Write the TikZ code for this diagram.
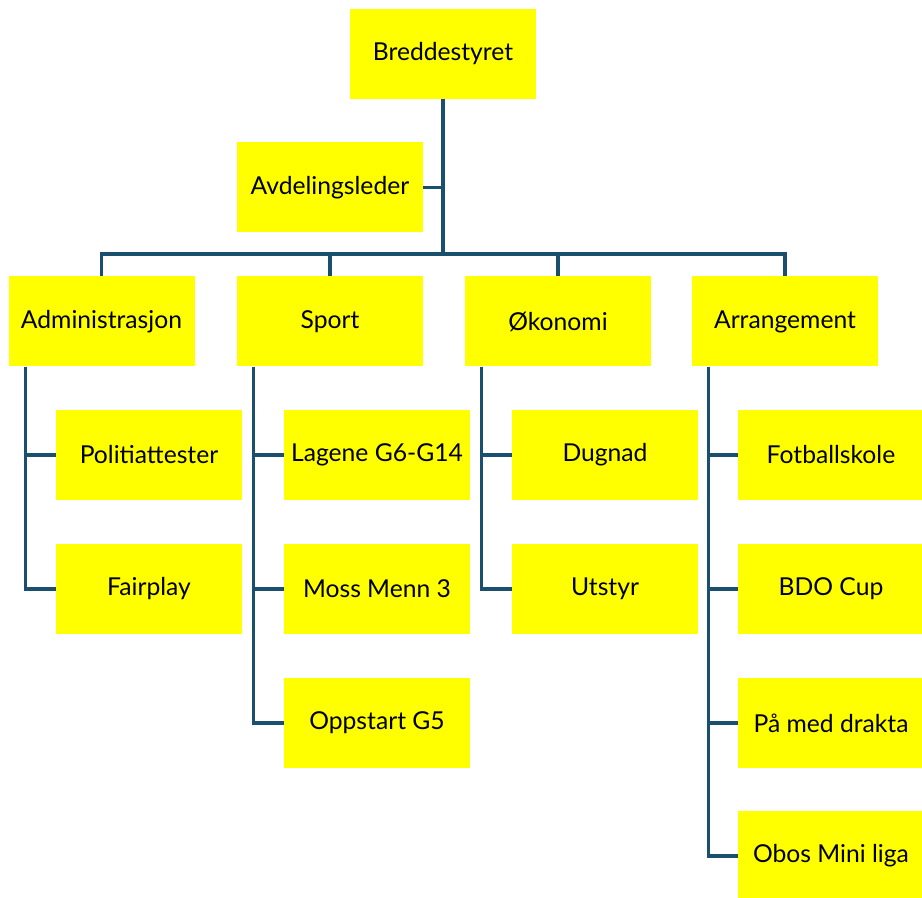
\documentclass[tikz,border=0pt]{standalone}
\usepackage{fontspec}
\setmainfont{Lato}
\usetikzlibrary{positioning,calc}
\definecolor{linkblue}{RGB}{26,80,110}
\definecolor{boxyellow}{RGB}{255,255,0}
\tikzset{
  orgbox/.style={fill=boxyellow, minimum width=139.5pt, minimum height=67.5pt, inner sep=0pt, font=\fontsize{18.5}{22}\selectfont},
  conn/.style={draw=linkblue, line width=2.3pt}
}

\begin{document}
\begin{tikzpicture}[x=0.75pt,y=-0.75pt]
		\useasboundingbox (0,0) rectangle (922,898);
		% top
		\node[orgbox] (bredde) at (443,54) {Breddestyret};
		\node[orgbox] (avd) at (330,187.5) {Avdelingsleder};
		\coordinate (bus) at (443,254);
		\draw[conn] (bredde.south) -- (bus);
		\draw[conn] (avd.east) -- (avd.east -| bredde.south);
		% departments
		\node[orgbox] (adm) at (101.5,321.5) {Administrasjon};
		\node[orgbox] (sport) at (330,321.5) {Sport};
		\node[orgbox] (oko) at (558,321.5) {Økonomi};
		\node[orgbox] (arr) at (785,321.5) {Arrangement};
		\draw[conn] (adm.north) -- (adm.north |- bus) -- (arr.north |- bus) -- (arr.north);
		\draw[conn] (sport.north) -- (sport.north |- bus);
		\draw[conn] (oko.north) -- (oko.north |- bus);
		% children
		\node[orgbox] (pol) at (149,455) {Politiattester};
		\node[orgbox] (fair) at (149,589) {Fairplay};
		\node[orgbox] (lag) at (377,455) {Lagene G6-G14};
		\node[orgbox] (moss) at (377,589) {Moss Menn 3};
		\node[orgbox] (opp) at (377,723) {Oppstart G5};
		\node[orgbox] (dug) at (605,455) {Dugnad};
		\node[orgbox] (uts) at (605,589) {Utstyr};
		\node[orgbox] (fot) at (831,455) {Fotballskole};
		\node[orgbox] (bdo) at (831,589) {BDO Cup};
		\node[orgbox] (paa) at (831,723) {På med drakta};
		\node[orgbox] (obos) at (831,856) {Obos Mini liga};
		\foreach \p/\c in {adm/pol,adm/fair,sport/lag,sport/moss,sport/opp,oko/dug,oko/uts,arr/fot,arr/bdo,arr/paa,arr/obos}
			\draw[conn] ($(\p.south west)+(17,0)$) |- (\c.west);
	\end{tikzpicture}
\end{document}
